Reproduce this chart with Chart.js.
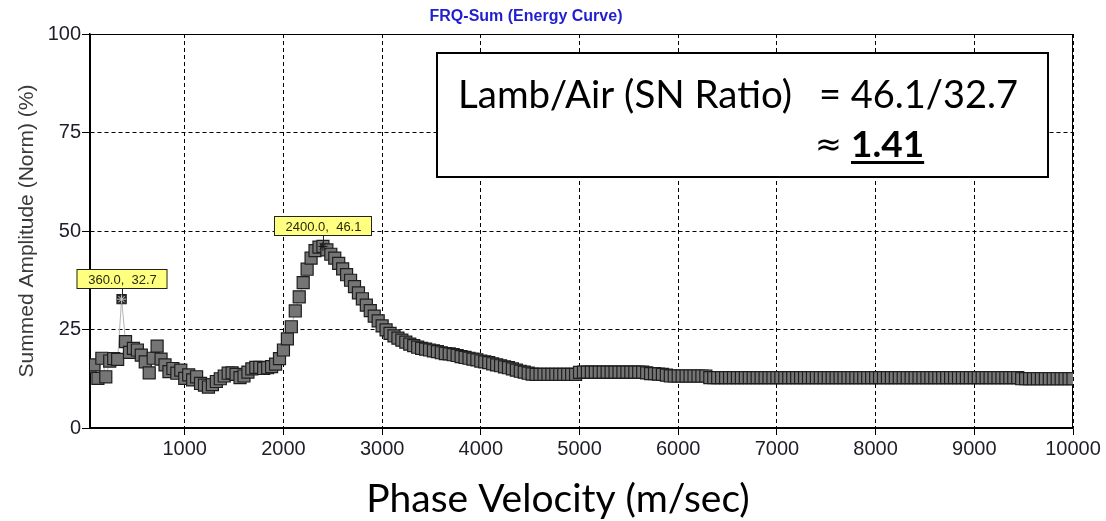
<!DOCTYPE html>
<html>
<head>
<meta charset="utf-8">
<title>FRQ-Sum (Energy Curve)</title>
<script src="https://cdn.jsdelivr.net/npm/chart.js@4/dist/chart.umd.min.js"></script>
<style>
  html, body { margin: 0; padding: 0; background: #fff; }
  canvas { display: block; }
</style>
</head>
<body>
<canvas id="energy" width="1106" height="521"></canvas>
<script>
// summed amplitude (%) per phase velocity bin, bins every 40 m/sec starting at 40
const velStart = 40;
const velStep = 40;
const amplitude = [
  // 40 - 1000
  15.5, 16.0, 12.6, 17.7, 13.0, 17.0, 17.6, 17.4, 32.7, 21.9, 19.2, 20.2, 19.8,
  18.5, 16.8, 14.0, 17.7, 20.8, 17.5, 16.0, 14.3, 15.1, 13.9, 14.7, 12.6,
  // 1040 - 2000
  13.5, 12.2, 13.0, 11.3, 10.9, 10.4, 11.0, 11.8, 12.5, 13.2, 13.9, 14.0, 13.6,
  12.8, 13.2, 14.2, 15.0, 15.4, 15.4, 15.1, 15.3, 15.6, 16.2, 17.6, 19.8,
  // 2040 - 3000
  22.6, 25.7, 29.7, 33.3, 36.9, 40.3, 43.1, 45.0, 45.9, 46.1, 45.2, 44.1, 43.1,
  41.8, 40.4, 38.9, 37.5, 35.9, 34.3, 32.8, 31.2, 29.8, 28.4, 27.2, 25.9,
  // 3040 - 4000
  24.9, 24.0, 23.4, 22.8, 22.3, 21.8, 21.3, 20.9, 20.5, 20.2, 20.0, 19.8, 19.6,
  19.4, 19.1, 18.9, 18.8, 18.6, 18.4, 18.1, 17.9, 17.7, 17.5, 17.3, 17.0,
  // 4040 - 5000
  16.8, 16.6, 16.3, 16.0, 15.8, 15.5, 15.3, 15.0, 14.7, 14.4, 14.2, 13.9, 13.7,
  13.6, 13.6, 13.6, 13.6, 13.6, 13.6, 13.6, 13.6, 13.6, 13.6, 13.6, 14.1,
  // 5040 - 6000
  14.2, 14.2, 14.2, 14.2, 14.2, 14.2, 14.2, 14.2, 14.2, 14.2, 14.2, 14.2, 14.2,
  14.2, 14.2, 14.2, 14.0, 13.8, 13.8, 13.7, 13.6, 13.4, 13.2, 13.2, 13.2,
  // 6040 - 7000
  13.2, 13.2, 13.2, 13.2, 13.2, 13.2, 13.2, 12.8, 12.8, 12.8, 12.8, 12.8, 12.8,
  12.8, 12.8, 12.8, 12.8, 12.8, 12.8, 12.8, 12.8, 12.8, 12.8, 12.8, 12.8,
  // 7040 - 8000
  12.8, 12.8, 12.8, 12.8, 12.8, 12.8, 12.8, 12.8, 12.8, 12.8, 12.8, 12.8, 12.8,
  12.8, 12.8, 12.8, 12.8, 12.8, 12.8, 12.8, 12.8, 12.8, 12.8, 12.8, 12.8,
  // 8040 - 9000
  12.8, 12.8, 12.8, 12.8, 12.8, 12.8, 12.8, 12.8, 12.8, 12.8, 12.8, 12.8, 12.8,
  12.8, 12.8, 12.8, 12.8, 12.8, 12.8, 12.8, 12.8, 12.8, 12.8, 12.8, 12.8,
  // 9040 - 10000
  12.8, 12.8, 12.8, 12.8, 12.8, 12.8, 12.8, 12.8, 12.8, 12.8, 12.8, 12.5, 12.5,
  12.5, 12.5, 12.5, 12.5, 12.5, 12.5, 12.5, 12.5, 12.5, 12.5, 12.5, 12.5,
];
const velocities = amplitude.map((_, i) => velStart + i * velStep);

// picked peaks: air wave and Lamb wave
const peakVelocities = [360, 2400];
const peakAmplitudes = [32.7, 46.1];

const xTicks = [1000, 2000, 3000, 4000, 5000, 6000, 7000, 8000, 9000, 10000];
const yTicks = [0, 25, 50, 75, 100];

const SANS = '"Liberation Sans", Arial, sans-serif';
const CAPTION = 'Lato, "Open Sans", sans-serif';

// frame, peak callouts, title, caption and ratio box
const annotations = {
  id: 'annotations',
  beforeDatasetsDraw(chart) {
    const { ctx, chartArea: a } = chart;
    ctx.save();
    ctx.strokeStyle = '#000';
    ctx.lineWidth = 1;
    ctx.strokeRect(a.left + 0.5, a.top + 0.5, a.right - a.left - 1, a.bottom - a.top);
    ctx.restore();
  },
  afterDatasetsDraw(chart) {
    const { ctx, scales: { x, y } } = chart;
    ctx.save();
    ctx.font = '13px ' + SANS;
    ctx.textAlign = 'center';
    ctx.textBaseline = 'middle';
    peakVelocities.forEach((v, i) => {
      const px = Math.round(x.getPixelForValue(v));
      const py = y.getPixelForValue(peakAmplitudes[i]);
      const text = v.toFixed(1) + ',  ' + peakAmplitudes[i].toFixed(1);
      const w = Math.round(ctx.measureText(text).width + 22);
      const h = 20;
      const top = Math.round(py - 10 - h);
      ctx.strokeStyle = '#222';
      ctx.lineWidth = 1;
      ctx.beginPath();
      ctx.moveTo(px + 0.5, top + h);
      ctx.lineTo(px + 0.5, py - 3);
      ctx.stroke();
      ctx.fillStyle = '#ffff80';
      ctx.fillRect(px - w / 2, top, w, h);
      ctx.strokeRect(px - w / 2 + 0.5, top + 0.5, w - 1, h - 1);
      ctx.fillStyle = '#2a2a10';
      ctx.fillText(text, px + 0.5, top + h / 2 + 1);
    });
    ctx.restore();
  },
  afterDraw(chart) {
    const { ctx } = chart;
    ctx.save();

    // chart title
    ctx.fillStyle = '#1f1fd0';
    ctx.font = 'bold 16px ' + SANS;
    ctx.textAlign = 'center';
    ctx.textBaseline = 'middle';
    ctx.fillText('FRQ-Sum (Energy Curve)', 526, 17);

    // x axis caption
    ctx.fillStyle = '#000';
    ctx.font = '39px ' + CAPTION;
    ctx.fillText('Phase Velocity (m/sec)', 558, 499);

    // signal to noise ratio box
    const [airPeak, lambPeak] = peakAmplitudes;
    ctx.fillStyle = '#fff';
    ctx.fillRect(437, 53, 611, 124);
    ctx.strokeStyle = '#000';
    ctx.lineWidth = 2;
    ctx.strokeRect(437, 53, 611, 124);

    ctx.fillStyle = '#000';
    ctx.textAlign = 'left';
    ctx.textBaseline = 'alphabetic';
    ctx.font = '38.5px ' + CAPTION;
    ctx.fillText('Lamb/Air (SN Ratio)', 458, 108);
    ctx.font = '38px ' + CAPTION;
    ctx.fillText('= ' + lambPeak.toFixed(1) + '/' + airPeak.toFixed(1), 819, 108);
    ctx.font = '32px "DejaVu Sans", sans-serif';
    ctx.fillText('\u2248', 815, 155);
    ctx.font = 'bold 37px ' + CAPTION;
    const ratio = (lambPeak / airPeak).toFixed(2);
    ctx.fillText(ratio, 851, 157);
    const rw = ctx.measureText(ratio).width;
    ctx.fillRect(851, 161, rw, 3);

    ctx.restore();
  }
};

const ctx = document.getElementById('energy').getContext('2d');

new Chart(ctx, {
  type: 'scatter',
  data: {
    datasets: [
      {
        label: 'Peaks',
        data: peakVelocities.map((v, i) => ({ x: v, y: peakAmplitudes[i] })),
        pointStyle: 'star',
        pointRadius: 4.5,
        pointBorderWidth: 1,
        pointBorderColor: ['#c8c8c8', '#111'],
        showLine: false,
      },
      {
        label: 'FRQ-Sum',
        data: velocities.map((v, i) => ({ x: v, y: amplitude[i] })),
        showLine: true,
        borderColor: '#b4b4b4',
        borderWidth: 1,
        tension: 0,
        pointStyle: 'rect',
        pointRadius: (c) => (c.dataIndex === 8 ? 6.5 : 8.5),
        pointBackgroundColor: (c) => (c.dataIndex === 8 ? '#2c2c2c' : '#757575'),
        pointBorderColor: '#1e1e1e',
        pointBorderWidth: 1.2,
      },
    ],
  },
  options: {
    responsive: false,
    animation: false,
    events: [],
    layout: { padding: { top: 34, right: 33, left: 0, bottom: 0 } },
    plugins: {
      legend: { display: false },
      tooltip: { enabled: false },
    },
    scales: {
      x: {
        type: 'linear',
        min: 40,
        max: 10000,
        afterBuildTicks: (scale) => { scale.ticks = xTicks.map((v) => ({ value: v })); },
        afterFit: (scale) => { scale.height = 93; },
        grid: { color: '#000', lineWidth: 1, tickLength: 7 },
        border: { color: '#000', width: 1.5, dash: [4, 3] },
        ticks: {
          color: '#1e1e28',
          font: { family: SANS, size: 20 },
          padding: 2,
          maxRotation: 0,
          autoSkip: false,
          callback: (v) => String(v),
        },
      },
      y: {
        min: 0,
        max: 100,
        afterBuildTicks: (scale) => { scale.ticks = yTicks.map((v) => ({ value: v })); },
        afterFit: (scale) => { scale.width = 90; },
        grid: { color: '#000', lineWidth: 1, tickLength: 8 },
        border: { color: '#000', width: 1.5, dash: [4, 3] },
        ticks: {
          color: '#1e1e28',
          font: { family: SANS, size: 20 },
          padding: 1,
        },
        title: {
          display: true,
          text: 'Summed Amplitude (Norm) (%)',
          color: '#3a3a3a',
          font: { family: SANS, size: 21 },
          padding: { top: 15, bottom: 0 },
        },
      },
    },
  },
  plugins: [annotations],
});
</script>
</body>
</html>
